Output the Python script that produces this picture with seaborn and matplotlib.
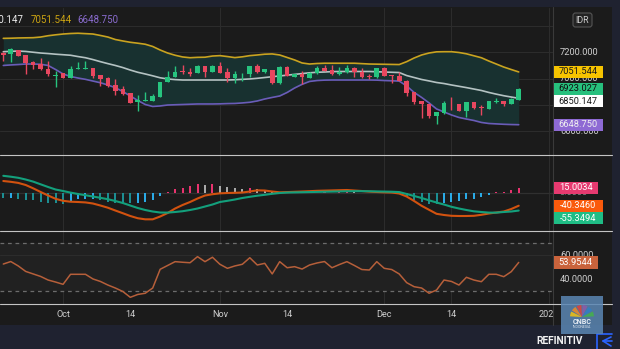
import numpy as np
import pandas as pd
import matplotlib
matplotlib.use("Agg")
import matplotlib.pyplot as plt
import seaborn as sns
from matplotlib.patches import Rectangle, FancyBboxPatch, Wedge
from matplotlib.transforms import IdentityTransform, Bbox
from matplotlib.lines import Line2D

# ---------------- data ----------------
opens = [7198, 7186, 7219, 7181, 7130, 7112, 7074, 7020, 7041, 7008,
         7072, 7072, 7079, 7028, 7003, 6952, 6921, 6889, 6820, 6830,
         6830, 6863, 6977, 7015, 7050, 7053, 7041, 7097, 7053, 7097,
         7053, 7008, 7041, 7036, 7097, 7049, 7066, 6965, 7092, 7015,
         7036, 7008, 7041, 7084, 7066, 7034, 7049, 7084, 7053, 7017,
         7011, 7084, 7023, 7021, 6985, 6896, 6830, 6805, 6718, 6736,
         6814, 6805, 6756, 6820, 6778, 6769, 6822, 6830, 6807, 6837]
highs = [7200, 7232, 7222, 7183, 7137, 7156, 7137, 7061, 7045, 7099,
         7130, 7137, 7082, 7030, 7010, 6995, 6944, 6892, 6876, 6896,
         6883, 6977, 7061, 7097, 7105, 7079, 7105, 7099, 7101, 7130,
         7079, 7059, 7043, 7099, 7112, 7075, 7070, 7094, 7097, 7038,
         7059, 7050, 7097, 7105, 7105, 7089, 7105, 7092, 7079, 7036,
         7082, 7087, 7028, 7053, 6990, 6899, 6832, 6808, 6745, 6830,
         6863, 6808, 6822, 6822, 6799, 6832, 6850, 6832, 6855, 6927]
lows = [7137, 7130, 7174, 7036, 7074, 7070, 7021, 6934, 7005, 7005,
        7072, 7072, 7008, 6944, 6940, 6876, 6876, 6815, 6753, 6830,
        6828, 6860, 6975, 7013, 7034, 7023, 7041, 7015, 7050, 7044,
        6977, 6965, 6982, 7015, 7046, 7046, 6962, 6962, 7018, 7013,
        6957, 7005, 7038, 7059, 7031, 7031, 7046, 7015, 7008, 6995,
        7008, 7018, 6969, 6980, 6868, 6807, 6698, 6702, 6654, 6733,
        6761, 6753, 6705, 6769, 6723, 6767, 6812, 6794, 6805, 6835]
closes = [7181, 7224, 7176, 7122, 7105, 7072, 7036, 7028, 7008, 7072,
          7074, 7074, 7023, 6995, 6944, 6908, 6883, 6817, 6837, 6832,
          6868, 6977, 7015, 7053, 7049, 7038, 7097, 7053, 7097, 7046,
          7008, 7036, 7043, 7097, 7049, 7072, 6965, 7092, 7021, 7036,
          7011, 7046, 7084, 7061, 7034, 7053, 7084, 7049, 7011, 7015,
          7079, 7021, 7021, 6982, 6893, 6820, 6807, 6718, 6743, 6812,
          6812, 6756, 6820, 6774, 6776, 6830, 6824, 6807, 6845, 6923.027]

bb_upper = [7308, 7309, 7311, 7312, 7313, 7318, 7328, 7335, 7341, 7345,
            7347, 7344, 7341, 7330, 7318, 7299, 7288, 7278, 7271, 7263,
            7246, 7219, 7196, 7179, 7166, 7160, 7163, 7164, 7173, 7176,
            7169, 7161, 7167, 7176, 7181, 7187, 7189, 7181, 7162, 7143,
            7120, 7112, 7116, 7118, 7118, 7118, 7118, 7118, 7115, 7112,
            7111, 7110, 7109, 7108, 7130, 7158, 7181, 7196, 7205, 7206,
            7206, 7200, 7190, 7175, 7160, 7135, 7112, 7089, 7070, 7051.544]
bb_mid = [7206, 7209, 7211, 7208, 7202, 7196, 7192, 7187, 7183, 7179,
          7169, 7160, 7146, 7130, 7115, 7101, 7085, 7066, 7049, 7036,
          7022, 7007, 6998, 6993, 6990, 6990, 6990, 6990, 6990, 6990,
          6990, 6992, 6995, 6998, 7003, 7009, 7015, 7021, 7027, 7033,
          7039, 7045, 7049, 7051, 7054, 7055, 7055, 7055, 7055, 7055,
          7053, 7051, 7049, 7047, 7024, 7009, 6994, 6983, 6971, 6963,
          6952, 6942, 6932, 6921, 6910, 6895, 6882, 6870, 6860, 6850.147]
bb_lower = [7101, 7105, 7108, 7112, 7112, 7110, 7101, 7070, 7036, 7017,
            7005, 6995, 6982, 6969, 6952, 6931, 6902, 6868, 6834, 6803,
            6788, 6792, 6799, 6801, 6803, 6805, 6807, 6807, 6807, 6808,
            6810, 6811, 6815, 6820, 6830, 6845, 6857, 6868, 6895, 6929,
            6957, 6979, 6986, 6989, 6990, 6990, 6990, 6990, 6990, 6990,
            6989, 6986, 6984, 6982, 6944, 6895, 6857, 6815, 6769, 6746,
            6723, 6704, 6692, 6681, 6666, 6658, 6655, 6652, 6650, 6648.750]

macd = [36.3, 33.8, 30.4, 23.9, 13.6, 2.2, -8.7, -18.9, -25.1, -27.9,
        -28.8, -30.1, -33.5, -39.7, -46.5, -55.2, -63.6, -72.2, -79.1, -82.5,
        -82.5, -73.8, -62.9, -49.0, -38.1, -28.8, -18.0, -8.7, -4.7, -1.9,
        -0.9, -0.3, 0.6, 3.7, 7.4, 6.8, 3.7, 1.2, 1.9, 2.8,
        3.7, 4.7, 5.9, 6.5, 7.1, 7.8, 8.4, 6.8, 5.3, 3.4,
        2.2, 1.2, 0.6, -2.5, -11.8, -25.7, -40.6, -53.0, -65.4, -69.1,
        -71.6, -72.2, -72.2, -71.6, -68.5, -64.5, -61.4, -58.3, -50.5, -40.3460]
signal = [52.4, 49.6, 46.2, 40.9, 34.4, 26.0, 17.7, 9.9, 5.3, 0.3,
          -4.0, -7.8, -11.8, -15.8, -20.2, -25.7, -31.9, -39.7, -47.4, -53.6,
          -58.3, -61.4, -61.7, -59.8, -57.4, -53.6, -49.0, -42.8, -36.6, -28.8,
          -25.1, -21.1, -16.4, -12.7, -9.3, -6.5, -3.4, -0.9, 0.5, 1.0,
          1.5, 2.0, 2.5, 3.0, 3.5, 4.0, 4.5, 4.8, 4.8, 4.5,
          4.0, 3.5, 3.0, 2.0, -4.0, -10.2, -16.4, -23.6, -30.4, -36.6,
          -43.7, -49.0, -53.6, -57.7, -59.8, -61.7, -61.7, -59.8, -58.3, -55.3494]
hist = [-17.5, -17.0, -20.5, -21.5, -23.0, -28.0, -31.0, -33.0, -33.5, -26.0,
        -20.5, -18.5, -18.0, -22.5, -28.0, -31.0, -31.5, -31.8, -31.0, -28.0,
        -22.5, -10.5, 1.0, 13.0, 13.5, 20.5, 25.5, 25.3, 27.0, 21.5,
        16.5, 13.5, 10.5, 13.5, 10.5, 8.5, 3.0, 1.5, 1.0, 1.5,
        1.0, 1.8, -1.0, 0.8, -0.5, 2.0, 3.0, 2.0, -1.5, -1.2,
        1.8, 1.0, 0.8, -3.5, -14.0, -24.0, -30.0, -35.0, -36.0, -31.0,
        -30.0, -25.0, -19.5, -19.0, -14.0, -7.0, 2.0, 3.5, 8.5, 15.0034]
rsi = [52.6, 54.7, 51.0, 46.4, 44.3, 42.2, 39.2, 37.5, 35.6, 44.0,
       44.0, 44.0, 40.1, 38.0, 35.0, 32.5, 29.6, 24.7, 27.1, 28.1,
       32.5, 48.2, 51.4, 54.6, 54.1, 53.7, 58.8, 54.6, 58.3, 52.4,
       49.0, 51.0, 52.4, 57.9, 51.8, 53.2, 44.3, 54.6, 49.5, 50.4,
       48.4, 51.8, 53.5, 54.7, 49.5, 52.2, 54.6, 51.4, 48.0, 47.6,
       54.6, 49.0, 48.0, 44.3, 37.0, 33.6, 32.5, 28.1, 30.8, 39.2,
       38.0, 35.0, 41.5, 39.2, 37.8, 44.0, 44.0, 42.0, 46.2, 53.9544]

tick_pos = [8, 17, 29, 38, 51, 60, 73]
tick_labels = ["Oct", "14", "Nov", "14", "Dec", "14", "2024"]
vgrid_pos = [8, 29, 51, 60, 73]
price_grid = [7400, 7200, 7000, 6800, 6600]
rsi_levels = [70, 30]

# ---------------- style ----------------
sns.set_theme(style="dark")
plt.rcParams['font.family'] = ['Roboto', 'DejaVu Sans']
plt.rcParams['axes.unicode_minus'] = False

W, H = 620, 349
BG = "#1b1b1b"
FRAME = "#1f2230"
GRID = "#2c2c2c"
AXTXT = "#cfcfcf"
UP_C, MID_C, LO_C = "#c9a320", "#b4c2c2", "#6a5cb8"
BAND_FILL = "#183130"
GREEN, RED = "#27c47f", "#e8475f"
MACD_C, SIG_C = "#d2520f", "#13a07c"
H_TEAL, H_BLUE, H_PINK, H_GREY = "#1c8e92", "#2aaae6", "#e8336e", "#a9a9a9"
RSI_C = "#b65f3a"

fig = plt.figure(figsize=(W / 100, H / 100), dpi=100)
fig.patch.set_facecolor(FRAME)
PIX = IdentityTransform()


def Y(y):
    return H - y


fig.add_artist(Rectangle((0, Y(325)), 612, 325 - 7, transform=PIX,
                         fc=BG, ec='none', zorder=-10))

idx = np.arange(len(closes))
XMIN, XMAX = -0.442, 73.59


def px_axes(x0, y0, x1, y1):
    ax = fig.add_axes([x0 / W, 1 - y1 / H, (x1 - x0) / W, (y1 - y0) / H])
    ax.set_facecolor(BG)
    for s in ax.spines.values():
        s.set_visible(False)
    ax.grid(False)
    return ax


def finish(ax, ylo, yhi):
    ax.set_xlim(XMIN, XMAX)
    ax.set_ylim(ylo, yhi)
    ax.set_xlabel("")
    ax.set_ylabel("")
    ax.tick_params(left=False, bottom=False, labelleft=False, labelbottom=False)


# ---------------- price panel ----------------
ax_p = px_axes(0, 8, 553, 155)
for v in price_grid:
    ax_p.axhline(v, color=GRID, lw=0.8, zorder=0)
for t in vgrid_pos:
    ax_p.axvline(t, color=GRID, lw=0.8, zorder=0)
ax_p.fill_between(idx, bb_lower, bb_upper, color=BAND_FILL, lw=0, zorder=1)
sns.lineplot(x=idx, y=bb_upper, ax=ax_p, color=UP_C, lw=1.2, zorder=2)
sns.lineplot(x=idx, y=bb_mid, ax=ax_p, color=MID_C, lw=1.2, zorder=2)
sns.lineplot(x=idx, y=bb_lower, ax=ax_p, color=LO_C, lw=1.2, zorder=2)
o = np.array(opens, float)
c = np.array(closes, float)
up = c >= o
ccols = np.where(up, GREEN, RED)
ax_p.vlines(idx, lows, highs, colors=ccols, lw=1.0, zorder=3)
ax_p.bar(idx, np.maximum(np.abs(c - o), 6), bottom=np.minimum(o, c),
         width=0.62, color=ccols, linewidth=0, zorder=4)
finish(ax_p, 6417.5, 7539.7)

# ---------------- MACD panel ----------------
ax_m = px_axes(0, 155, 553, 231)
for t in vgrid_pos:
    ax_m.axvline(t, color=GRID, lw=0.8, zorder=0)
ax_m.axhline(0, color="#303030", lw=0.9, zorder=0)
hcols = []
for i, h in enumerate(hist):
    prev = hist[i - 1] if i > 0 else h + 1
    if h >= 0:
        hcols.append(H_PINK if h > prev else H_GREY)
    else:
        hcols.append(H_TEAL if h < prev else H_BLUE)
ax_m.bar(idx, hist, width=0.27, color=hcols, linewidth=0, zorder=2)
sns.lineplot(x=idx, y=macd, ax=ax_m, color=MACD_C, lw=1.5, zorder=3)
sns.lineplot(x=idx, y=signal, ax=ax_m, color=SIG_C, lw=1.5, zorder=3)
finish(ax_m, -118.7, 116.9)

# ---------------- RSI panel ----------------
ax_r = px_axes(0, 231, 553, 304)
for t in vgrid_pos:
    ax_r.axvline(t, color=GRID, lw=0.8, zorder=0)
ax_r.axhspan(30, 70, color="#212121", lw=0, zorder=0)
ax_r.axhline(60, color=GRID, lw=0.8, zorder=0)
for lv in rsi_levels:
    ax_r.axhline(lv, color="#6c6c6c", lw=0.9, ls=(0, (3, 3)), zorder=1)
sns.lineplot(x=idx, y=rsi, ax=ax_r, color=RSI_C, lw=1.1, zorder=3)
finish(ax_r, 19.1, 80.3)
ax_r.set_xticks(tick_pos)
ax_r.set_xticklabels(tick_labels)
ax_r.tick_params(bottom=False, labelbottom=True, labelsize=6.6,
                 colors=AXTXT, pad=4.6, length=0)

# ---------------- separators ----------------
for yy in (155, 231, 304):
    fig.add_artist(Line2D([0, 612], [Y(yy), Y(yy)], transform=PIX,
                          color="#c4c4c4", lw=0.8, zorder=8))
fig.add_artist(Line2D([553, 553], [Y(7), Y(325)], transform=PIX,
                      color="#3a3a3a", lw=0.8, zorder=7))


def ypix(ax, v):
    return H - ax.transData.transform((0, v))[1]


def ftext(x, y, s, **kw):
    return fig.text(x / W, 1 - y / H, s, **kw)


# axis value labels (right column)
for v in [7200, 7000, 6800, 6600]:
    ftext(560, ypix(ax_p, v), f"{v:.3f}", color=AXTXT, fontsize=6.7,
          va='center', ha='left', zorder=4)
ftext(560, ypix(ax_m, 0), "0.0000", color="#8a8a8a", fontsize=6.7,
      va='center', ha='left', zorder=4)
for v in [60, 40]:
    ftext(560, ypix(ax_r, v), f"{v:.4f}", color=AXTXT, fontsize=6.7,
          va='center', ha='left', zorder=4)


def boxes(ax, items, h=12.4):
    ys = [ypix(ax, v) for v, _, _, _ in items]
    order = sorted(range(len(items)), key=lambda i: ys[i])
    prev = -1e9
    for i in order:
        v, txt, fc, tc = items[i]
        y = max(ys[i], prev + h)
        prev = y
        w = 5.6 * len(txt) + 5
        fig.add_artist(Rectangle((553.5, Y(y + h / 2)), w, h, transform=PIX,
                                 fc=fc, ec='none', zorder=9))
        ftext(553.5 + w / 2, y, txt, color=tc, fontsize=6.7, ha='center',
              va='center', zorder=10)


boxes(ax_p, [(bb_upper[-1], f"{bb_upper[-1]:.3f}", "#f7c400", "#1a1a1a"),
             (closes[-1], f"{closes[-1]:.3f}", "#27c07d", "#101010"),
             (bb_mid[-1], f"{bb_mid[-1]:.3f}", "#ffffff", "#1a1a1a"),
             (bb_lower[-1], f"{bb_lower[-1]:.3f}", "#8e6ad4", "#f0f0f0")])
boxes(ax_m, [(hist[-1], f"{hist[-1]:.4f}", "#e63a70", "#ffffff"),
             (macd[-1], f"{macd[-1]:.4f}", "#fa5a0c", "#ffffff"),
             (signal[-1], f"{signal[-1]:.4f}", "#1fbd85", "#ffffff")])
boxes(ax_r, [(rsi[-1], f"{rsi[-1]:.4f}", "#c9633c", "#ffffff")])

# header values (top-left)
ftext(23, 20, f"{bb_mid[-1]:.3f}", color="#ececec", fontsize=7, ha='right', va='center')
ftext(31, 20, f"{bb_upper[-1]:.3f}", color="#cba312", fontsize=7, ha='left', va='center')
ftext(77, 20, f"{bb_lower[-1]:.3f}", color="#8a6ccf", fontsize=7, ha='left', va='center')

# IDR badge
fig.add_artist(FancyBboxPatch((573, Y(27)), 19, 14, transform=PIX,
                              boxstyle="round,pad=0,rounding_size=2.5",
                              fc="#232323", ec="#555555", lw=0.8, zorder=6))
ftext(582.5, 20.2, "IDR", color=AXTXT, fontsize=6.3, ha='center', va='center', zorder=7)

# CNBC watermark
fig.add_artist(Rectangle((561, Y(334)), 42, 38, transform=PIX,
                         fc="#5b87b4", ec='none', alpha=0.85, zorder=11))
feathers = ["#f4c20d", "#f08a24", "#e2403a", "#8d5aa8", "#2f7fc6", "#45b14a"]
for k, col in enumerate(feathers):
    a0 = 180 - k * 30
    fig.add_artist(Wedge((582, Y(317)), 12, a0 - 27, a0 - 3, transform=PIX,
                         fc=col, ec='none', alpha=0.85, zorder=12))
ftext(582, 321.5, "CNBC", color="#e8eef5", fontsize=5.2, fontweight='bold',
      ha='center', va='center', zorder=13)
ftext(582, 326.5, "INDONESIA", color="#dfe6ee", fontsize=2.6,
      ha='center', va='center', zorder=13)

# footer
ftext(560, 341, "REFINITIV", color="#f2f2f2", fontsize=7.4, fontweight='bold',
      ha='center', va='center')
blue = "#2a63ff"
fig.add_artist(Line2D([597, 597, 612], [Y(349), Y(334), Y(334)], transform=PIX,
                      color=blue, lw=1.2))
fig.add_artist(Line2D([611, 603, 611], [Y(337), Y(341), Y(346)], transform=PIX,
                      color=blue, lw=1.2))
fig.add_artist(Line2D([603, 612], [Y(341), Y(341)], transform=PIX,
                      color=blue, lw=1.2))

# clip the last tick label at the price-scale column
fig.canvas.draw()
clip = Bbox.from_extents(0, 0, 553, H)
for lbl in ax_r.get_xticklabels():
    lbl.set_clip_on(True)
    lbl.set_clip_box(clip)

fig.savefig("out.png", dpi=100, facecolor=fig.get_facecolor())
